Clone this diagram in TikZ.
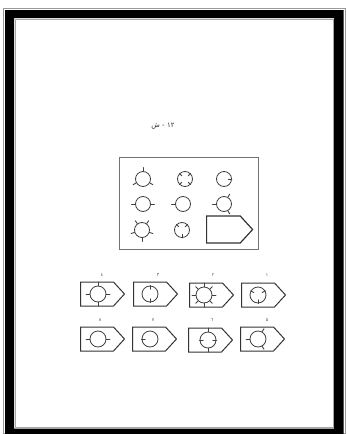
\documentclass[tikz,border=0pt]{standalone}
\usepackage{fontspec}
\newfontfamily\arabicfont[Script=Arabic]{DejaVu Sans}
\TeXXeTstate=1
\usetikzlibrary{shapes.symbols,positioning}

\tikzset{
  ring/.style={circle, draw=black!75, line width=0.8pt, minimum size=15pt, inner sep=0pt},
  spk/.style={draw=black!75, line width=0.9pt, line cap=round},
  optbox/.style={signal, signal to=east, signal pointer angle=95, draw=black!80, line width=1pt, minimum width=44pt, minimum height=24pt, inner sep=0pt, anchor=west},
  numlbl/.style={font=\arabicfont\fontsize{4.5}{4.5}\selectfont, text=black!70, inner sep=0pt}
}
\newcommand{\outspk}[2]{\foreach \a in {#2} {\draw[spk] (#1.\a) -- ++(\a:3.5pt);}}
\newcommand{\inspk}[2]{\foreach \a in {#2} {\draw[spk] (#1.\a) -- ++(\a+180:3.5pt);}}

\begin{document}
\begin{tikzpicture}[x=1pt, y=-1pt]
    \useasboundingbox (0,0) rectangle (347,434);

    % Frame
    \draw[black!40, line width=0.8pt] (3.5,8.5) rectangle (345,433.5);
    \fill[black, even odd rule] (5,10) rectangle (343.5,434) (14,18) rectangle (334,428.5);
    \draw[black!35, line width=0.8pt] (15,19) rectangle (333,427.5);

    % Title
    \node[font=\arabicfont\fontsize{7}{7}\selectfont, text=black!80] (ttl) at (163,126) {\beginR ١٢ - ش\endR};

    % Matrix
    \node[draw=black!55, line width=0.8pt, minimum width=139pt, minimum height=92pt, inner sep=0pt] (mat) at (188.5,203) {};

    \node[ring] (m11) at (143,179) {};
    \node[ring] (m12) at (185,179) {};
    \node[ring] (m13) at (224,179) {};
    \node[ring] (m21) at (143,204) {};
    \node[ring] (m22) at (183,204) {};
    \node[ring] (m23) at (224,204) {};
    \node[ring] (m31) at (142,230) {};
    \node[ring] (m32) at (182,230) {};
    \node[optbox, minimum width=46pt, minimum height=27pt, line width=1.2pt] (mq) at (206,229.5) {};

    \outspk{m11}{90,210,330}
    \inspk{m12}{45,135,225,315}
    \inspk{m13}{-5}
    \outspk{m21}{0,180}
    \outspk{m22}{180}
    \outspk{m23}{60,180,300}
    \outspk{m31}{54,126,198,270,342}
    \inspk{m32}{45,135,270}

    % Options, top row
    \node[optbox] (o1) at (80,294) {};
    \node[optbox] (o2) at (133,294) {};
    \node[optbox] (o3) at (189,295) {};
    \node[optbox] (o4) at (241,295) {};

    \node[ring, minimum size=16pt] (c1) at (98,294) {};
    \node[ring, minimum size=16pt] (c2) at (150,294) {};
    \node[ring, minimum size=16pt] (c3) at (204,295) {};
    \node[ring, minimum size=16pt] (c4) at (258,295) {};

    \outspk{c1}{0,90,180,270}
    \inspk{c2}{90,270}
    \outspk{c3}{0,45,90,135,180,225,270,315}
    \inspk{c4}{30,150,270}

    % Options, bottom row
    \node[optbox] (o5) at (80,339) {};
    \node[optbox] (o6) at (132,339) {};
    \node[optbox] (o7) at (188,340) {};
    \node[optbox] (o8) at (240,339) {};

    \node[ring, minimum size=16pt] (c5) at (98,339) {};
    \node[ring, minimum size=16pt] (c6) at (150,339) {};
    \node[ring, minimum size=16pt] (c7) at (208,340) {};
    \node[ring, minimum size=16pt] (c8) at (258,339) {};

    \outspk{c5}{0,180}
    \inspk{c6}{180}
    \outspk{c7}{90,270}
    \inspk{c7}{0,180}
    \outspk{c8}{60,180,300}

    % Numbers
    \node[numlbl] (n1) at (102,275) {٤};
    \node[numlbl] (n2) at (158,275) {٣};
    \node[numlbl] (n3) at (213,275) {٢};
    \node[numlbl] (n4) at (267,275) {١};
    \node[numlbl] (n5) at (100,320) {٨};
    \node[numlbl] (n6) at (153,320) {٧};
    \node[numlbl] (n7) at (212,320) {٦};
    \node[numlbl] (n8) at (267,320) {٥};
\end{tikzpicture}
\end{document}
